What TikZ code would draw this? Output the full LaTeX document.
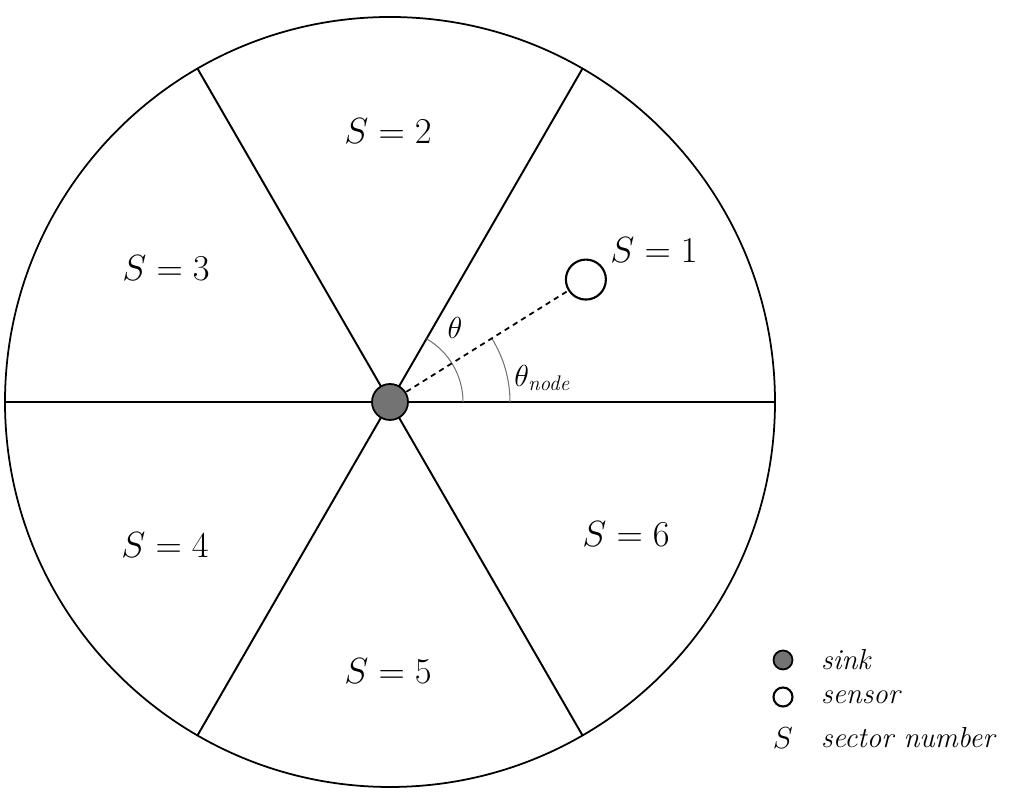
\documentclass[tikz,border=0pt]{standalone}
\usepackage{amsmath}
\usepackage{tikz}
\usetikzlibrary{calc}
\def\thickness{1.1pt}
\def\rim{7.7}
\tikzset{sector line/.style={line width=\thickness}}
\tikzset{sink/.style={circle, draw, line width=1pt, fill=black!55, minimum size=0.72cm, inner sep=0pt}}
\tikzset{sensor/.style={circle, draw, line width=1.2pt, fill=white, minimum size=0.8cm, inner sep=0pt}}
\tikzset{angle arc/.style={line width=0.6pt, black!55}}
\tikzset{label/.style={font=\fontsize{21}{24}\selectfont}}
\tikzset{key/.style={font=\fontsize{16.5}{19}\selectfont\itshape, anchor=west}}

\begin{document}
\begin{tikzpicture}

\useasboundingbox (0, 0) rectangle (20.48, 16.06);

\node (0) at (7.8, 8.02) {};
\node (1) at ($(0)+(0:\rim)$) {};
\node (2) at ($(0)+(60:\rim)$) {};
\node (3) at ($(0)+(120:\rim)$) {};
\node (4) at ($(0)+(180:\rim)$) {};
\node (5) at ($(0)+(240:\rim)$) {};
\node (6) at ($(0)+(300:\rim)$) {};
\node (7) at ($(0)+(32:4.62)$) {};

\draw [line width=1pt] (0.center) circle (\rim);
\draw [sector line, line width=1.5pt] (4.center) to (1.center);
\draw [sector line] (5.center) to (2.center);
\draw [sector line] (6.center) to (3.center);

% sensor angle and sector angle
\draw [angle arc] ($(0)+(0:1.46)$) arc (0:60:1.46);
\draw [angle arc] ($(0)+(0:2.4)$) arc (0:32:2.4);
\draw [line width=1pt, dash pattern=on 3pt off 2.5pt] (0.center) to (7.center);

\node [sink] (sink) at (0) {};
\node [sensor] (sensor) at (7) {};

\node [label] (s1) at (13.08, 11.06) {$S = 1$};
\node [label] (s2) at (7.76, 13.44) {$S = 2$};
\node [label] (s3) at (3.32, 10.7) {$S = 3$};
\node [label] (s4) at (3.3, 5.16) {$S = 4$};
\node [label] (s5) at (7.76, 2.64) {$S = 5$};
\node [label] (s6) at (12.52, 5.38) {$S = 6$};
\node [font=\fontsize{18}{20}\selectfont] (th) at (9.1, 9.5) {$\theta$};
\node [font=\fontsize{18}{20}\selectfont] (thn) at (10.86, 8.5) {$\theta_{\mathit{node}}$};

% legend
\node [sink, minimum size=0.38cm] (k1) at (15.66, 2.86) {};
\node [sensor, minimum size=0.38cm] (k2) at (15.66, 2.12) {};
\node [font=\fontsize{16.5}{19}\selectfont] (k3) at (15.66, 1.3) {$S$};
\node [key] (t1) at (16.3, 2.86) {sink};
\node [key] (t2) at (16.3, 2.12) {sensor};
\node [key] (t3) at (16.3, 1.3) {sector number};

\end{tikzpicture}
\end{document}
